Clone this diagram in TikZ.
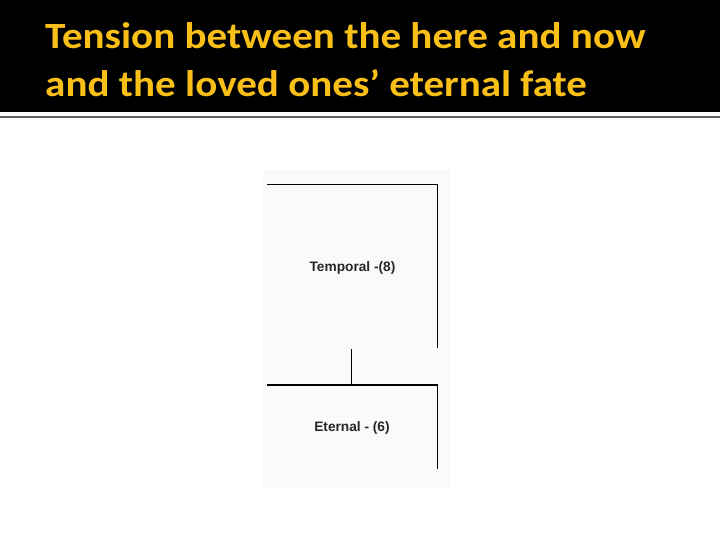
\documentclass[tikz,border=0pt]{standalone}
\usepackage{fontspec}
\setmainfont{Carlito}
\newfontfamily\labelfont{Liberation Sans}
\definecolor{titlegold}{RGB}{250,192,24}
\definecolor{rulegray}{RGB}{100,100,100}
\tikzset{
  titletext/.style={anchor=base west, inner sep=0pt, xscale=1.11, text=titlegold, font=\bfseries\fontsize{37}{44}\selectfont},
  boxline/.style={line width=1.1pt, black},
  lbl/.style={inner sep=0pt, font=\labelfont\bfseries\fontsize{13.7}{16}\selectfont, text=black!85}
}
\begin{document}
\begin{tikzpicture}[x=1pt,y=-1pt]
\useasboundingbox (0,0) rectangle (720,540);
\fill[white] (0,0) rectangle (720,540);
\fill[black] (0,0) rectangle (720,112.5);
\draw[rulegray, line width=1.3pt] (0,117) -- (720,117);
\node[titletext] (t1) at (45,49) {Tension between the here and now};
\node[titletext] (t2) at (45,97) {and the loved ones’ eternal fate};
\fill[black!2] (263,170) rectangle (450,488);
% Temporal box
\coordinate (tl) at (267,184.3);
\coordinate (tr) at (437.3,184.3);
\coordinate (tb) at (437.3,348.3);
\draw[boxline] (tl) -- (tr) -- (tb);
\node[lbl] (temporal) at (352.5,267.5) {Temporal -(8)};
% connector
\coordinate (ca) at (351.3,349.3);
\coordinate (cb) at (351.3,385);
\draw[boxline] (ca) -- (cb);
% Eternal box
\coordinate (el) at (267,385);
\coordinate (er) at (437.3,385);
\coordinate (eb) at (437.3,469.3);
\draw[boxline] (el) -- (er) -- (eb);
\node[lbl] (eternal) at (352,428) {Eternal - (6)};
\end{tikzpicture}
\end{document}
